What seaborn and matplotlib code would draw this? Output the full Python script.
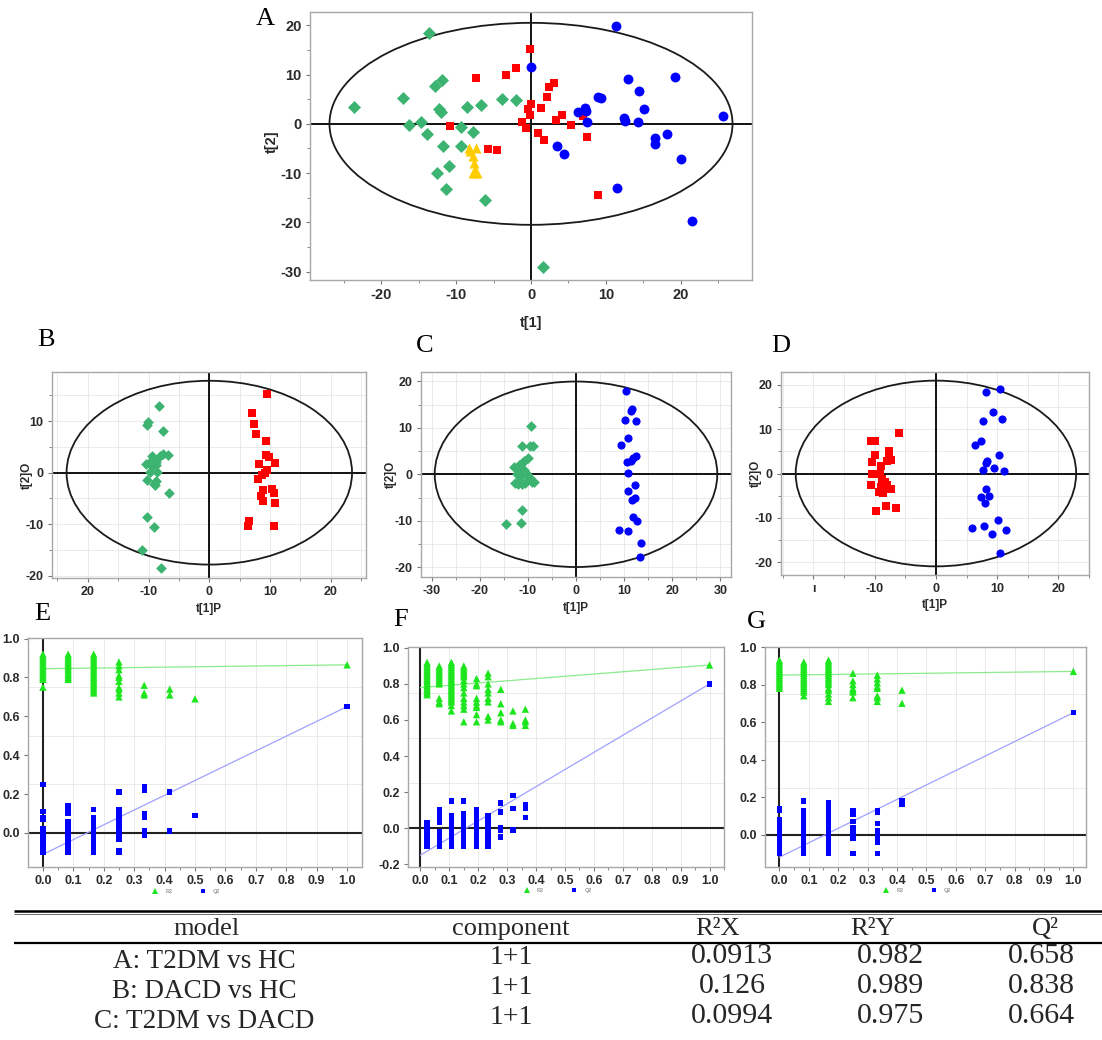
import pandas as pd
import matplotlib.pyplot as plt
import seaborn as sns
from matplotlib.patches import Ellipse
from matplotlib.ticker import MultipleLocator, FixedLocator

sns.set_style("white")
plt.rcParams["font.family"] = ["Liberation Sans", "DejaVu Sans"]
plt.rcParams["font.weight"] = "bold"
plt.rcParams["axes.labelweight"] = "bold"
plt.rcParams["axes.unicode_minus"] = False

FIG_W, FIG_H = 1102, 1040

# ---- score plot data (t[1], t[2]) ----
A_HC_X = [-13.6, -23.6, -17.1, -16.3, -14.7, -13.9, -12.8, -11.9, -12.3, -12.0, -11.7, -9.4,
          -9.3, -8.6, -7.8, -6.7, -3.9, -2.0, -12.5, -11.0, -11.3, -6.2, 1.6]
A_HC_Y = [18.4, 3.5, 5.2, -0.3, 0.3, -2.0, 7.7, 8.9, 3.0, 2.3, -4.6, -0.7,
          -4.4, 3.4, -1.6, 3.8, 5.0, 4.9, -10.0, -8.6, -13.2, -15.5, -29.1]
A_T2DM_X = [-0.1, -7.3, -3.3, -2.0, 3.1, 2.4, 2.2, 1.4, 0.0, -0.4, -0.2, -10.8,
            -1.2, -0.7, 1.0, 1.8, 3.4, 4.2, 5.4, 6.9, 7.5, -5.8, -4.5, 9.0]
A_T2DM_Y = [15.1, 9.4, 9.9, 11.4, 8.2, 7.4, 5.5, 3.3, 4.0, 3.0, 1.8, -0.4,
            0.3, -0.9, -1.9, -3.2, 0.8, 1.8, -0.3, 1.5, -2.7, -5.1, -5.3, -14.5]
A_DACD_X = [11.3, 0.0, 12.9, 19.2, 14.4, 9.0, 9.4, 15.1, 6.3, 7.2, 7.4, 7.5,
            12.4, 12.5, 14.3, 25.6, 16.6, 16.5, 18.1, 20.0, 3.5, 4.4, 11.5, 21.5]
A_DACD_Y = [19.8, 11.6, 9.2, 9.6, 6.7, 5.5, 5.3, 3.0, 2.3, 3.2, 2.6, 0.3,
            1.1, 0.5, 0.3, 1.6, -2.9, -4.1, -2.1, -7.2, -4.4, -6.1, -13.0, -19.8]
A_QC_X = [-8.3, -7.3, -8.1, -7.7, -7.6, -7.5, -7.2, -7.8]
A_QC_Y = [-4.9, -4.9, -5.6, -6.6, -8.0, -9.3, -10.0, -10.0]

B_HC_X = [-8.3, -10.1, -10.3, -7.6, -9.4, -7.7, -6.8, -8.2, -10.5, -9.9, -8.8, -8.8,
          -9.5, -9.8, -8.6, -10.3, -9.1, -8.7, -9.0, -6.6, -10.2, -9.1, -11.0, -7.9]
B_HC_Y = [12.9, 9.8, 9.2, 8.1, 3.3, 3.7, 3.5, 3.2, 1.7, 1.8, 2.1, 1.5,
          1.2, 0.2, 0.2, -1.5, -2.1, -1.7, -2.4, -3.9, -8.6, -10.5, -15.0, -18.5]
B_T2DM_X = [9.5, 7.1, 7.4, 7.7, 9.3, 9.3, 9.9, 10.8, 8.2, 9.5, 9.1, 8.6,
            8.0, 8.9, 10.4, 10.7, 10.8, 8.5, 8.8, 6.6, 6.3, 10.7]
B_T2DM_Y = [15.2, 11.6, 9.4, 7.5, 6.2, 3.5, 3.0, 1.8, 1.6, 0.5, -0.1, -0.5,
            -1.2, -3.3, -3.2, -4.0, -5.9, -4.6, -5.4, -9.3, -10.3, -10.3]

C_HC_X = [-9.3, -11.2, -9.6, -8.9, -10.0, -10.7, -11.2, -12.8, -11.9, -10.7, -11.7, -12.2,
          -10.2, -11.6, -9.6, -12.6, -11.2, -10.5, -9.1, -8.8, -12.0, -11.2, -11.4, -14.5]
C_HC_Y = [10.4, 6.1, 6.1, 6.1, 3.4, 2.9, 2.5, 1.5, 2.0, 0.9, 0.6, 0.1,
          0.1, -0.5, -0.9, -1.8, -2.1, -1.9, -1.7, -1.6, -2.1, -7.7, -10.4, -10.7]
C_DACD_X = [10.4, 11.6, 11.5, 10.1, 12.5, 10.7, 9.3, 12.5, 11.8, 11.4, 10.6,
            10.9, 12.2, 10.8, 12.3, 11.6, 11.8, 12.7, 8.9, 10.7, 13.5, 13.2]
C_DACD_Y = [18.0, 14.0, 13.6, 11.7, 11.4, 7.9, 6.2, 4.0, 3.6, 2.9, 2.6,
            0.2, -2.4, -3.6, -5.2, -5.5, -9.1, -10.0, -11.9, -12.1, -14.8, -17.7]

D_T2DM_X = [-6.1, -10.6, -9.9, -10.3, -10.0, -7.6, -7.6, -7.3, -8.0, -10.4, -9.0, -10.4,
            -9.2, -8.8, -8.3, -10.6, -8.0, -7.3, -9.0, -9.3, -8.6, -8.1, -6.5, -9.8]
D_T2DM_Y = [9.2, 7.3, 7.3, 7.3, 4.1, 5.1, 3.9, 3.0, 2.8, 2.5, 1.7, -0.2,
            -0.2, -1.3, -2.0, -2.6, -2.6, -3.4, -3.0, -4.1, -4.4, -7.3, -7.7, -8.5]
D_DACD_X = [10.5, 8.2, 9.4, 10.8, 7.7, 7.3, 6.4, 10.3, 8.4, 8.2, 7.7, 9.5,
            11.1, 8.1, 7.3, 8.7, 8.0, 10.1, 5.9, 7.8, 9.2, 11.4, 10.5]
D_DACD_Y = [19.1, 18.3, 13.9, 12.4, 11.8, 7.4, 6.5, 4.1, 2.8, 2.3, 0.8, 1.2,
            0.6, -3.6, -5.3, -5.1, -6.6, -10.5, -12.4, -11.8, -13.7, -12.8, -17.9]

# Hotelling T2 ellipse half-axes per model
A_ELLIPSE = (26.9, 20.5)
B_ELLIPSE = (23.5, 17.8)
C_ELLIPSE = (29.35, 19.95)
D_ELLIPSE = (22.9, 20.95)

# ---- permutation test data (correlation, R2/Q2) ----
LINE_X = [0.0, 1.0]

E_STEPS = [0.0, 0.083, 0.167, 0.25, 0.333, 0.417, 0.5, 1.0]
E_R2 = [
    [0.92, 0.91, 0.90, 0.89, 0.88, 0.87, 0.86, 0.85, 0.84, 0.83, 0.82, 0.81, 0.80, 0.79, 0.75],
    [0.92, 0.91, 0.90, 0.89, 0.88, 0.87, 0.86, 0.85, 0.84, 0.83, 0.82, 0.81, 0.80, 0.79],
    [0.92, 0.91, 0.90, 0.89, 0.88, 0.87, 0.86, 0.85, 0.84, 0.83, 0.82, 0.81, 0.80, 0.79, 0.78,
     0.77, 0.76, 0.75, 0.74, 0.73, 0.72],
    [0.88, 0.86, 0.84, 0.81, 0.80, 0.78, 0.75, 0.74, 0.72, 0.70],
    [0.76, 0.72, 0.71],
    [0.74, 0.71],
    [0.69],
    [0.865],
]
E_Q2 = [
    [0.25, 0.11, 0.08, 0.07, 0.02, 0.01, 0.0, -0.01, -0.02, -0.03, -0.04, -0.05, -0.06, -0.07,
     -0.08, -0.09, -0.10],
    [0.14, 0.13, 0.12, 0.10, 0.06, 0.05, 0.04, 0.03, 0.02, 0.01, 0.0, -0.01, -0.02, -0.03, -0.04,
     -0.05, -0.06, -0.07, -0.08, -0.09, -0.10],
    [0.12, 0.08, 0.07, 0.06, 0.05, 0.04, 0.03, 0.02, 0.01, 0.0, -0.01, -0.02, -0.03, -0.04, -0.05,
     -0.06, -0.07, -0.08, -0.09, -0.10],
    [0.21, 0.12, 0.10, 0.08, 0.06, 0.04, 0.02, -0.01, -0.03, -0.09, -0.10],
    [0.24, 0.22, 0.10, 0.09, 0.08, 0.01, 0.0, -0.01],
    [0.21, 0.01],
    [0.09],
    [0.65],
]
E_R2_LINE = [0.845, 0.865]
E_Q2_LINE = [-0.11, 0.65]

F_STEPS = [0.023, 0.065, 0.107, 0.15, 0.194, 0.234, 0.278, 0.32, 0.363, 1.0]
F_R2 = [
    [0.92, 0.91, 0.90, 0.89, 0.88, 0.87, 0.86, 0.85, 0.84, 0.83, 0.82, 0.81, 0.80, 0.79, 0.78,
     0.77, 0.76, 0.75, 0.74],
    [0.90, 0.89, 0.88, 0.87, 0.86, 0.85, 0.84, 0.83, 0.82, 0.81, 0.80, 0.72, 0.70, 0.69],
    [0.92, 0.91, 0.90, 0.89, 0.88, 0.87, 0.86, 0.85, 0.84, 0.83, 0.82, 0.81, 0.80, 0.79, 0.78,
     0.77, 0.76, 0.75, 0.74, 0.73, 0.72, 0.71, 0.70, 0.68, 0.65],
    [0.90, 0.89, 0.88, 0.87, 0.86, 0.85, 0.84, 0.82, 0.80, 0.78, 0.75, 0.72, 0.70, 0.68, 0.66,
     0.59],
    [0.83, 0.80, 0.79, 0.72, 0.70, 0.68, 0.67, 0.63, 0.59],
    [0.86, 0.84, 0.80, 0.77, 0.75, 0.72, 0.70, 0.62, 0.60],
    [0.77, 0.69, 0.64, 0.60, 0.59],
    [0.65, 0.58, 0.57],
    [0.66, 0.60, 0.59, 0.57],
    [0.905],
]
F_Q2 = [
    [0.03, 0.02, 0.01, 0.0, -0.01, -0.04, -0.05, -0.06, -0.07, -0.09, -0.10],
    [0.10, 0.07, 0.06, 0.05, 0.04, 0.03, -0.02, -0.03, -0.04, -0.05, -0.06, -0.07, -0.08, -0.09,
     -0.10],
    [0.15, 0.07, 0.05, 0.04, 0.02, 0.01, 0.0, -0.01, -0.02, -0.03, -0.04, -0.05, -0.06, -0.07,
     -0.08, -0.09, -0.10],
    [0.15, 0.08, 0.05, 0.02, 0.01, -0.01, -0.02, -0.04, -0.06, -0.07, -0.08, -0.09, -0.10],
    [0.10, 0.09, 0.07, 0.05, 0.03, 0.02, 0.0, -0.02, -0.03, -0.04, -0.06, -0.07, -0.10],
    [0.07, 0.05, 0.03, 0.01, 0.0, -0.02, -0.03, -0.05, -0.07, -0.08, -0.10],
    [0.14, 0.09, 0.0, -0.01, -0.05],
    [0.18, 0.11, -0.01],
    [0.13, 0.11, 0.06],
    [0.80],
]
F_R2_LINE = [0.78, 0.905]
F_Q2_LINE = [-0.15, 0.80]

G_STEPS = [0.0, 0.083, 0.167, 0.25, 0.333, 0.417, 1.0]
G_R2 = [
    [0.93, 0.92, 0.91, 0.90, 0.89, 0.88, 0.87, 0.86, 0.85, 0.84, 0.83, 0.82, 0.81, 0.80, 0.79,
     0.78],
    [0.92, 0.91, 0.90, 0.89, 0.88, 0.87, 0.86, 0.85, 0.84, 0.83, 0.82, 0.81, 0.80, 0.79, 0.78,
     0.77, 0.76, 0.74],
    [0.93, 0.92, 0.91, 0.90, 0.89, 0.88, 0.87, 0.86, 0.85, 0.84, 0.83, 0.82, 0.81, 0.80, 0.78,
     0.77, 0.75, 0.73, 0.71],
    [0.86, 0.82, 0.80, 0.78, 0.77, 0.76, 0.73],
    [0.85, 0.83, 0.81, 0.79, 0.78, 0.74, 0.73, 0.71],
    [0.77, 0.70],
    [0.87],
]
G_Q2 = [
    [0.14, 0.13, 0.08, 0.07, 0.05, 0.04, 0.02, 0.01, 0.0, -0.01, -0.02, -0.03, -0.04, -0.05,
     -0.06, -0.07, -0.08, -0.09, -0.10],
    [0.18, 0.13, 0.11, 0.08, 0.07, 0.06, 0.05, 0.04, 0.03, 0.02, 0.01, 0.0, -0.01, -0.02, -0.03,
     -0.04, -0.05, -0.06, -0.07, -0.08, -0.09, -0.10],
    [0.17, 0.15, 0.13, 0.11, 0.10, 0.09, 0.07, 0.06, 0.05, 0.04, 0.03, 0.02, 0.01, 0.0, -0.01,
     -0.02, -0.03, -0.04, -0.05, -0.06, -0.07, -0.08, -0.09, -0.10],
    [0.13, 0.12, 0.11, 0.07, 0.04, 0.02, 0.0, -0.02, -0.10],
    [0.13, 0.12, 0.06, 0.02, 0.01, -0.01, -0.03, -0.04, -0.10],
    [0.18, 0.17, 0.16],
    [0.65],
]
G_R2_LINE = [0.85, 0.87]
G_Q2_LINE = [-0.12, 0.65]

# ---- summary table ----
TABLE_HEADER = ["model", "component", "R\u00b2X", "R\u00b2Y", "Q\u00b2"]
TABLE_MODELS = ["A: T2DM vs HC", "B: DACD vs HC", "C: T2DM vs DACD"]
TABLE_COMPONENTS = ["1+1", "1+1", "1+1"]
TABLE_R2X = ["0.0913", "0.126", "0.0994"]
TABLE_R2Y = ["0.982", "0.989", "0.975"]
TABLE_Q2 = ["0.658", "0.838", "0.664"]

GROUP_STYLE = {
    "HC": ("#3CB371", "D", 1.0),
    "T2DM": ("#FF0000", "s", 0.9),
    "DACD": ("#0000FF", "o", 1.15),
    "QC": ("#FFCC00", "^", 1.2),
}
FRAME_COLOR = "#A8A8A8"
TICK_COLOR = "#2a2a2a"


def px_rect(left, top, right, bottom):
    return [left / FIG_W, 1 - bottom / FIG_H, (right - left) / FIG_W, (bottom - top) / FIG_H]


def style_frame(ax, labelsize):
    for spine in ax.spines.values():
        spine.set_color(FRAME_COLOR)
        spine.set_linewidth(1.0)
    ax.tick_params(which="both", direction="out", color="#777777", labelsize=labelsize,
                   labelcolor=TICK_COLOR, bottom=True, left=True, top=False, right=False)
    ax.tick_params(which="major", length=3, width=0.8, pad=3)
    ax.tick_params(which="minor", length=2, width=0.6)


def draw_scores(ax, groups, ellipse, xlim, ylim, base_size, grid, labelsize):
    frames = [pd.DataFrame({"t1": xs, "t2": ys, "group": name}) for name, xs, ys in groups]
    df = pd.concat(frames, ignore_index=True)
    for name, sub in df.groupby("group", sort=False):
        color, marker, scale = GROUP_STYLE[name]
        sns.scatterplot(data=sub, x="t1", y="t2", color=color, marker=marker,
                        s=base_size * scale, linewidth=0, ax=ax, zorder=4, legend=False)
    ax.add_patch(Ellipse((0, 0), 2 * ellipse[0], 2 * ellipse[1], fill=False,
                         edgecolor="#1a1a1a", linewidth=1.3, zorder=3))
    ax.axhline(0, color="#111111", linewidth=1.4, zorder=2)
    ax.axvline(0, color="#111111", linewidth=1.4, zorder=2)
    ax.set_xlim(xlim)
    ax.set_ylim(ylim)
    ax.xaxis.set_major_locator(MultipleLocator(10))
    ax.yaxis.set_major_locator(MultipleLocator(10))
    ax.xaxis.set_minor_locator(MultipleLocator(5))
    ax.yaxis.set_minor_locator(MultipleLocator(5))
    if grid:
        ax.grid(which="both", color="#E6E6E6", linewidth=0.6)
        ax.set_axisbelow(True)
    style_frame(ax, labelsize)


def draw_perm(ax, steps, r2, q2, r2_line, q2_line, xlim, ylim):
    rows = []
    for x, vals in zip(steps, r2):
        rows += [(x, v, "R2") for v in vals]
    for x, vals in zip(steps, q2):
        rows += [(x, v, "Q2") for v in vals]
    df = pd.DataFrame(rows, columns=["corr", "value", "stat"])
    sns.lineplot(x=LINE_X, y=r2_line, color="#8CEB8C", linewidth=0.9, ax=ax, zorder=3)
    sns.lineplot(x=LINE_X, y=q2_line, color="#A0A0FF", linewidth=0.9, ax=ax, zorder=3)
    sns.scatterplot(data=df, x="corr", y="value", hue="stat", style="stat", size="stat",
                    palette={"R2": "#1EE61E", "Q2": "#0000FF"},
                    markers={"R2": "^", "Q2": "s"}, sizes={"R2": 28, "Q2": 15},
                    linewidth=0, ax=ax, zorder=4)
    ax.axhline(0, color="#222222", linewidth=1.5, zorder=2)
    ax.axvline(0, color="#222222", linewidth=1.5, zorder=2)
    ax.set_xlim(xlim)
    ax.set_ylim(ylim)
    ax.xaxis.set_major_locator(MultipleLocator(0.1))
    ax.xaxis.set_minor_locator(MultipleLocator(0.05))
    ax.yaxis.set_major_locator(MultipleLocator(0.2))
    ax.yaxis.set_minor_locator(MultipleLocator(0.25))
    ax.grid(axis="x", which="major", color="#E6E6E6", linewidth=0.6)
    ax.grid(axis="y", which="minor", color="#E6E6E6", linewidth=0.6)
    ax.set_axisbelow(True)
    ax.set_xlabel("")
    ax.set_ylabel("")
    style_frame(ax, 9)
    ax.tick_params(axis="y", which="minor", length=0)
    sns.move_legend(ax, "center", bbox_to_anchor=(0.47, -0.108), ncol=2, frameon=False,
                    title=None, fontsize=4, labelcolor="#999999", handletextpad=0.8,
                    columnspacing=4.5, markerscale=0.8)


fig = plt.figure(figsize=(FIG_W / 100, FIG_H / 100), dpi=100)

# overlay in pixel units for panel letters and the table
ov = fig.add_axes([0, 0, 1, 1])
ov.set_xlim(0, FIG_W)
ov.set_ylim(FIG_H, 0)
ov.axis("off")

# --- A ---
ax_a = fig.add_axes(px_rect(310, 12, 752, 280))
draw_scores(ax_a, [("HC", A_HC_X, A_HC_Y), ("T2DM", A_T2DM_X, A_T2DM_Y),
                   ("DACD", A_DACD_X, A_DACD_Y), ("QC", A_QC_X, A_QC_Y)],
            A_ELLIPSE, (-29.5, 29.5), (-31.7, 22.7), 44, False, 10.5)
ax_a.set_xlabel("t[1]", fontsize=10.5, color=TICK_COLOR)
ax_a.set_ylabel("t[2]", fontsize=10.5, color=TICK_COLOR)
ax_a.xaxis.set_label_coords(0.5, -0.135)
ax_a.yaxis.set_label_coords(-0.07, 0.515)

# --- B, C, D ---
score_panels = [
    (px_rect(52, 372, 366, 578), [("HC", B_HC_X, B_HC_Y), ("T2DM", B_T2DM_X, B_T2DM_Y)],
     B_ELLIPSE, (-25.9, 25.8), (-20.4, 19.5), ["20", "-10", "0", "10", "20"], -0.06),
    (px_rect(421, 372, 731, 577), [("HC", C_HC_X, C_HC_Y), ("DACD", C_DACD_X, C_DACD_Y)],
     C_ELLIPSE, (-32.2, 32.2), (-22.1, 22.0), None, -0.077),
    (px_rect(781, 372, 1089, 575), [("T2DM", D_T2DM_X, D_T2DM_Y), ("DACD", D_DACD_X, D_DACD_Y)],
     D_ELLIPSE, (-25.3, 25.0), (-22.9, 22.9), ["\u0131", "-10", "0", "10", "20"], -0.062),
]
for rect, groups, ell, xlim, ylim, xlabels, ylab_x in score_panels:
    ax = fig.add_axes(rect)
    draw_scores(ax, groups, ell, xlim, ylim, 30, True, 9)
    if xlabels is not None:
        ax.xaxis.set_major_locator(FixedLocator([-20, -10, 0, 10, 20]))
        ax.set_xticklabels(xlabels)
    ax.set_xlabel("t[1]P", fontsize=8.5, color=TICK_COLOR)
    ax.set_ylabel("t[2]O", fontsize=8.5, color=TICK_COLOR)
    ax.xaxis.set_label_coords(0.5, -0.12)
    ax.yaxis.set_label_coords(ylab_x, 0.5)

# --- E, F, G ---
perm_panels = [
    (px_rect(28, 638, 362, 867), E_STEPS, E_R2, E_Q2, E_R2_LINE, E_Q2_LINE,
     (-0.049, 1.049), (-0.175, 1.003)),
    (px_rect(408, 647, 724, 867), F_STEPS, F_R2, F_Q2, F_R2_LINE, F_Q2_LINE,
     (-0.043, 1.05), (-0.216, 1.005)),
    (px_rect(765, 647, 1086, 867), G_STEPS, G_R2, G_Q2, G_R2_LINE, G_Q2_LINE,
     (-0.049, 1.043), (-0.172, 1.0)),
]
for rect, steps, r2, q2, r2_line, q2_line, xlim, ylim in perm_panels:
    ax = fig.add_axes(rect)
    draw_perm(ax, steps, r2, q2, r2_line, q2_line, xlim, ylim)

# panel letters
letter_pos = {"A": (265, 19), "B": (46, 340), "C": (425, 346), "D": (781, 346),
              "E": (42, 614), "F": (401, 620), "G": (756, 622)}
for letter, (lx, ly) in letter_pos.items():
    ov.text(lx, ly, letter, family=["Liberation Serif", "DejaVu Serif"], fontsize=19,
            fontweight="normal", ha="center", va="center", color="black")

# table
ov.plot([14, 1102], [911, 911], color="black", linewidth=1.8, solid_capstyle="butt")
ov.plot([14, 1102], [914, 914], color="#555555", linewidth=0.6, solid_capstyle="butt")
ov.plot([14, 1102], [943, 943], color="black", linewidth=1.6, solid_capstyle="butt")
serif = ["Liberation Serif", "DejaVu Serif"]
header_x = [207, 511, 717, 872, 1045]
for hx, htxt in zip(header_x, TABLE_HEADER):
    ov.text(hx, 929, htxt, family=serif, fontsize=19, fontweight="normal",
            ha="center", va="center")
label_y = [962, 992, 1021]
value_y = [956, 986, 1016]
for i in range(len(TABLE_MODELS)):
    ov.text(204, label_y[i], TABLE_MODELS[i], family=serif, fontsize=19.5,
            fontweight="normal", ha="center", va="center")
    ov.text(511, value_y[i] + 2, TABLE_COMPONENTS[i], family=serif, fontsize=20,
            fontweight="normal", ha="center", va="center")
    for vx, col in zip([732, 890, 1041], [TABLE_R2X, TABLE_R2Y, TABLE_Q2]):
        ov.text(vx, value_y[i], col[i], family=serif, fontsize=21.5, fontweight="normal",
                ha="center", va="center")

fig.savefig("out.png", dpi=100)
plt.close(fig)
